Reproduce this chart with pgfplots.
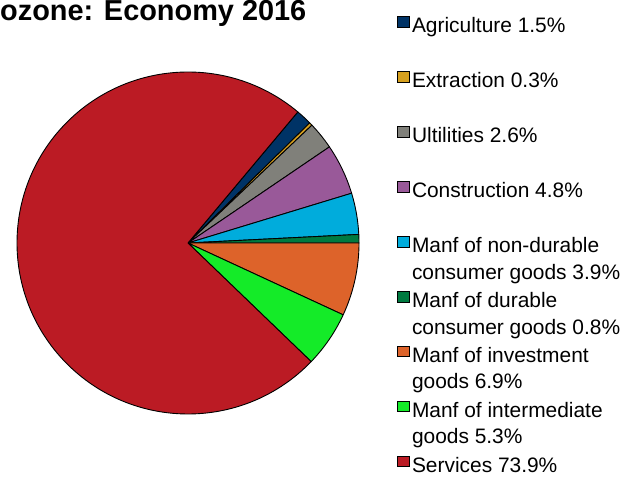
\documentclass[border=0pt]{standalone}
\usepackage{pgfplots}
\pgfplotsset{compat=1.18}
\usepackage{pgfplotstable}
\usepackage{fontspec}
\setmainfont{Liberation Sans}

\definecolor{pie0}{RGB}{0,51,102}
\definecolor{pie1}{RGB}{214,160,30}
\definecolor{pie2}{RGB}{128,128,122}
\definecolor{pie3}{RGB}{153,89,153}
\definecolor{pie4}{RGB}{0,172,220}
\definecolor{pie5}{RGB}{0,122,64}
\definecolor{pie6}{RGB}{221,99,42}
\definecolor{pie7}{RGB}{20,235,40}
\definecolor{pie8}{RGB}{187,27,36}

\pgfplotstableread[col sep=comma]{
label,value
Agriculture,1.5
Extraction,0.3
Utilities,2.6
Construction,4.8
Nondurable,3.9
Durable,0.8
Investment,6.9
Intermediate,5.3
Services,73.9
}\datatable

\newcommand\lentry[2]{\parbox[t]{230bp}{#1\\#2}}

\begin{document}
\begin{tikzpicture}[x=1bp,y=1bp]
\useasboundingbox (0,0) rectangle (642,477);
\begin{axis}[
  at={(0,0)}, anchor=south west,
  width=642bp, height=477bp, scale only axis,
  xmin=0, xmax=642, ymin=0, ymax=477,
  hide axis, clip=false,
  legend cell align=left,
  legend style={at={(axis cs:397,463)}, anchor=north west, draw=none, fill=none,
    font=\fontsize{21}{27}\selectfont, inner sep=0pt, row sep=0bp,
    nodes={text height=16bp, text depth=35bp},
    /tikz/every even column/.append style={column sep=0bp}},
  legend image code/.code={\draw[#1, draw=black, line width=0.8bp] (0bp,14.7bp) rectangle (12bp,25.2bp);},
]
\addlegendimage{fill=pie0}\addlegendentry{\lentry{Agriculture 1.5\%}{}}
\addlegendimage{fill=pie1}\addlegendentry{\lentry{Extraction 0.3\%}{}}
\addlegendimage{fill=pie2}\addlegendentry{\lentry{Ultilities 2.6\%}{}}
\addlegendimage{fill=pie3}\addlegendentry{\lentry{Construction 4.8\%}{}}
\addlegendimage{fill=pie4}\addlegendentry{\lentry{Manf of non-durable}{consumer goods 3.9\%}}
\addlegendimage{fill=pie5}\addlegendentry{\lentry{Manf of durable}{consumer goods 0.8\%}}
\addlegendimage{fill=pie6}\addlegendentry{\lentry{Manf of investment}{goods 6.9\%}}
\addlegendimage{fill=pie7}\addlegendentry{\lentry{Manf of intermediate}{goods 5.3\%}}
\addlegendimage{fill=pie8}\addlegendentry{\lentry{Services 73.9\%}{}}

\pgfmathsetmacro\startang{50.04}
\pgfplotsforeachungrouped \i in {0,...,8}{%
  \pgfplotstablegetelem{\i}{value}\of\datatable
  \pgfmathsetmacro\endang{\startang - 3.6*\pgfplotsretval}%
  \edef\temp{\noexpand\filldraw[fill=pie\i, draw=black, line width=0.9bp, line join=round]
    (axis cs:188,234) -- ++(\startang:171bp) arc[start angle=\startang, end angle=\endang, radius=171bp] -- cycle;}%
  \temp
  \let\startang\endang
}

\node[anchor=base west, inner sep=0pt, font=\bfseries\fontsize{29}{34}\selectfont] at (axis cs:0,456) {ozone: Economy 2016};
\end{axis}
\end{tikzpicture}
\end{document}
